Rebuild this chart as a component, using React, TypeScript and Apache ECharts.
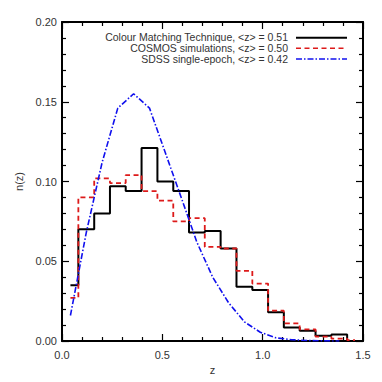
import React, { useEffect, useRef } from "react";
import * as echarts from "echarts";

// Bin centres (z) shared by the three distributions
const zCentres = [0.042, 0.121, 0.2, 0.278, 0.357, 0.436, 0.515, 0.594, 0.672, 0.751, 0.83, 0.909, 0.988, 1.066, 1.145, 1.224, 1.303, 1.382, 1.46];
// Colour Matching Technique
const cmtValues = [0.035, 0.07, 0.08, 0.097, 0.094, 0.121, 0.1, 0.094, 0.068, 0.069, 0.058, 0.034, 0.032, 0.018, 0.0085, 0.0065, 0.0033, 0.004, 0.0];
// COSMOS simulations
const cosmosValues = [0.027, 0.09, 0.102, 0.099, 0.104, 0.094, 0.088, 0.075, 0.077, 0.059, 0.058, 0.044, 0.036, 0.019, 0.011, 0.0073, 0.0027, 0.0015, 0.0005];
// SDSS single-epoch
const sdssValues = [0.016, 0.068, 0.112, 0.146, 0.155, 0.146, 0.118, 0.09, 0.062, 0.04, 0.024, 0.012, 0.0055, 0.002, 0.0008, 0.0003, 0.0001, 0.0];

const legendLabels = [
  "Colour Matching Technique, <z> = 0.51",
  "COSMOS simulations, <z> = 0.50",
  "SDSS single-epoch, <z> = 0.42",
];
const xTicks = { min: 0, max: 1.5, interval: 0.5 };
const yTicks = { min: 0, max: 0.2, interval: 0.05 };

const FONT = "Liberation Sans, Arial, Helvetica, sans-serif";

export default function App() {
  const ref = useRef<HTMLDivElement>(null);
  useEffect(() => {
    if (!ref.current) return;
    const chart = echarts.init(ref.current, undefined, { renderer: "svg" });
    const pairs = (vals: number[]) => vals.map((v, i) => [zCentres[i], v]);
    const axisCommon = {
      axisLine: { show: true, onZero: false, lineStyle: { color: "#000", width: 2 } },
      splitLine: { show: false },
      minorSplitLine: { show: false },
    };
    const xBase = {
      type: "value" as const,
      min: xTicks.min,
      max: xTicks.max,
      interval: xTicks.interval,
      ...axisCommon,
      axisTick: { show: true, inside: true, length: 7, lineStyle: { color: "#000", width: 1.2 } },
      minorTick: { show: true, splitNumber: 5, length: 4, lineStyle: { color: "#000", width: 1.2 } },
    };
    const yBase = {
      type: "value" as const,
      min: yTicks.min,
      max: yTicks.max,
      interval: yTicks.interval,
      ...axisCommon,
      axisTick: { show: true, inside: true, length: 7, lineStyle: { color: "#000", width: 1.2 } },
      minorTick: { show: true, splitNumber: 5, length: 4, lineStyle: { color: "#000", width: 1.2 } },
    };
    const legendColors = ["#000000", "#dd1a1a", "#1010ee"];
    const legendDash: any[] = ["solid", [5, 3.5], [6, 2, 1.5, 2]];
    const legendY = [37.7, 48.3, 59];
    const graphics: any[] = [];
    legendLabels.forEach((t, i) => {
      graphics.push({
        type: "text",
        right: 382 - 288,
        top: legendY[i] - 6,
        style: { text: t, fill: "#333", font: `10.5px ${FONT}`, textAlign: "right" },
      });
      graphics.push({
        type: "line",
        shape: { x1: 296, y1: legendY[i], x2: 347, y2: legendY[i] },
        style: { stroke: legendColors[i], lineWidth: i === 0 ? 2 : 1.6, lineDash: legendDash[i] },
      });
    });
    chart.setOption({
      animation: false,
      backgroundColor: "#fff",
      grid: { left: 62, right: 19, top: 22, bottom: 41, containLabel: false },
      xAxis: [
        {
          ...xBase,
          position: "bottom",
          name: "z",
          nameLocation: "middle",
          nameGap: 18,
          nameTextStyle: { color: "#333", fontFamily: FONT, fontSize: 11 },
          axisLabel: {
            show: true,
            color: "#333",
            fontFamily: FONT,
            fontSize: 11,
            margin: 8,
            formatter: (v: number) => v.toFixed(1),
          },
        },
        { ...xBase, position: "top", axisLabel: { show: false } },
      ],
      yAxis: [
        {
          ...yBase,
          position: "left",
          name: "n(z)",
          nameLocation: "middle",
          nameGap: 29,
          nameRotate: 90,
          nameTextStyle: { color: "#333", fontFamily: FONT, fontSize: 11 },
          axisLabel: {
            show: true,
            color: "#333",
            fontFamily: FONT,
            fontSize: 11,
            margin: 5,
            formatter: (v: number) => v.toFixed(2),
          },
        },
        { ...yBase, position: "right", axisLabel: { show: false } },
      ],
      series: [
        {
          type: "line",
          name: legendLabels[0],
          step: "middle",
          data: pairs(cmtValues),
          showSymbol: false,
          symbol: "none",
          lineStyle: { color: legendColors[0], width: 2 },
          z: 2,
        },
        {
          type: "line",
          name: legendLabels[1],
          step: "middle",
          data: pairs(cosmosValues),
          showSymbol: false,
          symbol: "none",
          lineStyle: { color: legendColors[1], width: 1.8, type: [5, 3.5] },
          z: 3,
        },
        {
          type: "line",
          name: legendLabels[2],
          data: pairs(sdssValues),
          showSymbol: false,
          symbol: "none",
          lineStyle: { color: legendColors[2], width: 1.6, type: [6, 2, 1.5, 2] },
          z: 4,
        },
      ],
      graphic: graphics,
    });
    return () => chart.dispose();
  }, []);
  return <div ref={ref} style={{ width: 382, height: 382, position: "absolute", left: 0, top: 0 }} />;
}
